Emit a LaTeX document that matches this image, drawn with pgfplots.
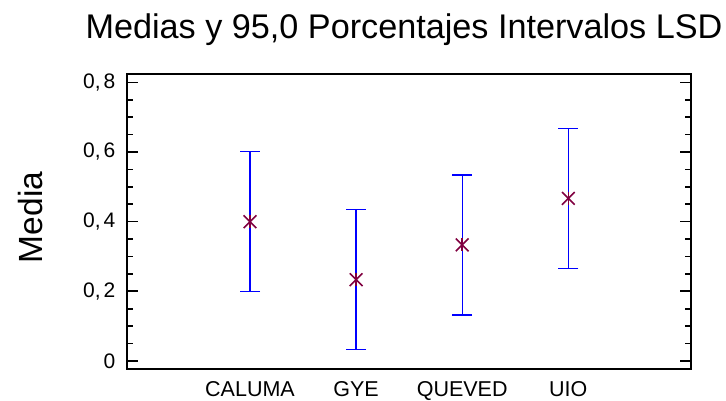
\documentclass[border=0pt]{standalone}
\usepackage{pgfplots}
\pgfplotsset{compat=1.18}
\usepackage{fontspec}
\setmainfont{Liberation Sans}
\definecolor{mk}{RGB}{128,0,64}
\begin{document}
\begin{tikzpicture}
\path[use as bounding box] (-127.3pt,-31.7pt) rectangle (598.7pt,369.3pt);
\begin{axis}[
  at={(0pt,0pt)}, anchor=south west,
  scale only axis, width=563.4pt, height=295.3pt,
  xmin=-0.1565, xmax=5.1535, ymin=-0.024, ymax=0.824,
  axis line style={line width=1.8pt},
  xtick={1,2,3,4}, xticklabels={CALUMA,GYE,QUEVED,UIO},
  x tick style={draw=none},
  ytick={0,0.2,0.4,0.6,0.8},
  yticklabels={0,{0,\kern3pt2},{0,\kern3pt4},{0,\kern3pt6},{0,\kern3pt8}},
  minor y tick num=3,
  tick align=inside,
  major tick length=11pt, minor tick length=5.5pt,
  y tick style={line width=1.6pt, black},
  ytick pos=both,
  xtick pos=bottom,
  yticklabel style={font=\fontsize{21}{21}\selectfont, inner sep=0pt, anchor=east, xshift=-11.8pt},
  xticklabel style={font=\fontsize{21.5}{21.5}\selectfont, inner sep=0pt, anchor=north, yshift=-12.4pt},
  clip=false,
]
\addplot[blue, mark=none, draw=none,
  error bars/.cd, y dir=both, y explicit,
  error bar style={blue, line width=1.4pt},
  error mark options={blue, mark size=10pt, line width=1.4pt, rotate=90}]
  coordinates {
  (1,0.4000) +- (0,0.201)
  (2,0.2333) +- (0,0.201)
  (3,0.3333) +- (0,0.201)
  (4,0.4667) +- (0,0.201)
};
\addplot[only marks, mark=x, mark size=9pt, mk, mark options={line width=1.6pt}]
  coordinates {(1,0.4000) (2,0.2333) (3,0.3333) (4,0.4667)};
\addplot[only marks, mark=|, mark size=6.5pt, mk, mark options={line width=1.6pt}]
  coordinates {(1,0.4000) (2,0.2333) (3,0.3333) (4,0.4667)};
\end{axis}
\node[anchor=base, font=\fontsize{34.2}{34.2}\selectfont] at (276.7pt,331pt) {Medias y 95,0 Porcentajes Intervalos LSD};
\node[rotate=90, anchor=base, font=\fontsize{33.5}{33.5}\selectfont] at (-84.6pt,151.8pt) {Media};
\end{tikzpicture}
\end{document}
